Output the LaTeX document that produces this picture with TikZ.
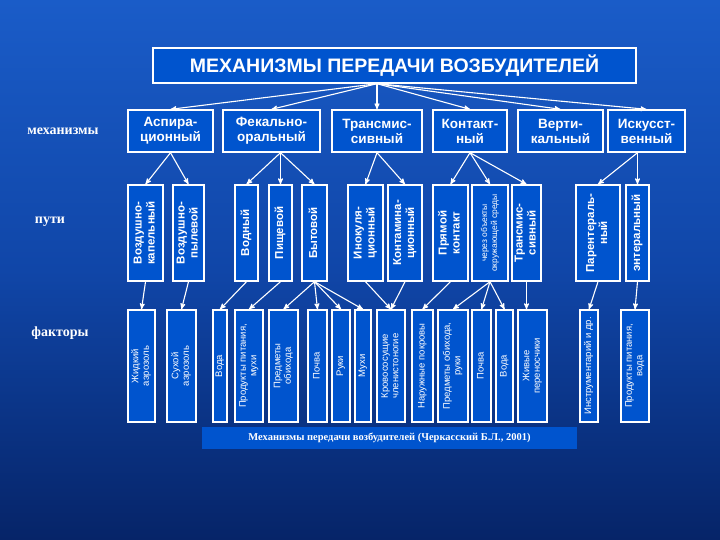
\documentclass[tikz,border=0pt]{standalone}
\usepackage{fontspec}
\setmainfont{Liberation Serif}
\setsansfont{Liberation Sans}
\usetikzlibrary{arrows}
\definecolor{boxblue}{RGB}{0,84,206}
\definecolor{bgtop}{RGB}{26,92,200}
\definecolor{bgmid}{RGB}{16,70,168}
\definecolor{bgbot}{RGB}{6,36,104}
\newcommand{\vtext}[1]{\rotatebox{90}{\begin{tabular}{@{}c@{}}#1\end{tabular}}}

\begin{document}
\begin{tikzpicture}[x=1pt,y=-1pt,>=stealth',
  box/.style={rectangle,draw=white,line width=1.4pt,fill=boxblue,text=white,inner sep=0pt},
  mbox/.style={box,minimum height=42pt,align=center,font=\sffamily\bfseries\fontsize{13.5}{15}\selectfont},
  pbox/.style={box,minimum height=96pt,font=\sffamily\bfseries\fontsize{11.5}{13}\selectfont},
  fbox/.style={box,minimum height=112pt,font=\sffamily\fontsize{9.5}{10.5}\selectfont},
  rowlabel/.style={text=white,font=\rmfamily\bfseries\fontsize{14}{16}\selectfont},
  arr/.style={white,line width=1.1pt,->}]
\path [top color=bgtop,bottom color=bgbot,middle color=bgmid] (0,0) rectangle (720,540);
\useasboundingbox (0,0) rectangle (720,540);
% title
\node (title) at (394.5,65.5) [box,minimum width=483pt,minimum height=35pt,
  font=\sffamily\bfseries\fontsize{19.5}{22}\selectfont] {МЕХАНИЗМЫ ПЕРЕДАЧИ ВОЗБУДИТЕЛЕЙ};
% row labels
\node (lmech) at (63,131) [rowlabel] {механизмы};
\node (lpath) at (50,222) [rowlabel] {пути};
\node (lfact) at (60,333) [rowlabel] {факторы};
% mechanisms
\node (asp) at (170.5,131) [mbox,minimum width=85pt] {Аспира-\\ционный};
\node (fek) at (271.5,131) [mbox,minimum width=97pt] {Фекально-\\оральный};
\node (trm) at (377,131)   [mbox,minimum width=90pt] {Трансмис-\\сивный};
\node (kon) at (470,131)   [mbox,minimum width=74pt] {Контакт-\\ный};
\node (ver) at (560.5,131) [mbox,minimum width=85pt] {Верти-\\кальный};
\node (isk) at (646.5,131) [mbox,minimum width=77pt] {Искусст-\\венный};
% paths
\node (vk)    at (145.5,233) [pbox,minimum width=35pt] {\vtext{Воздушно-\\капельный}};
\node (vp)    at (188.5,233) [pbox,minimum width=31pt] {\vtext{Воздушно-\\пылевой}};
\node (vod)   at (246.5,233) [pbox,minimum width=23pt] {\vtext{Водный}};
\node (pis)   at (280.5,233) [pbox,minimum width=23pt] {\vtext{Пищевой}};
\node (byt)   at (314.5,233) [pbox,minimum width=25pt] {\vtext{Бытовой}};
\node (ino)   at (365.5,233) [pbox,minimum width=35pt] {\vtext{Инокуля-\\ционный}};
\node (kont)  at (405,233)   [pbox,minimum width=34pt] {\vtext{Контамина-\\ционный}};
\node (pryam) at (450.5,233) [pbox,minimum width=35pt] {\vtext{Прямой\\контакт}};
\node (cher)  at (490,233)   [pbox,minimum width=36pt,font=\sffamily\fontsize{8.5}{10}\selectfont]
  {\vtext{через объекты\\окружающей среды}};
\node (trans) at (526.5,233) [pbox,minimum width=29pt] {\vtext{Трансмис-\\сивный}};
\node (par)   at (598,233)   [pbox,minimum width=44pt] {\vtext{Парентераль-\\ный}};
\node (ent)   at (637.5,233) [pbox,minimum width=23pt] {\vtext{энтеральный}};
% factors
\node (zhid)   at (141.5,366) [fbox,minimum width=27pt] {\vtext{Жидкий\\аэрозоль}};
\node (suh)    at (181.5,366) [fbox,minimum width=29pt] {\vtext{Сухой\\аэрозоль}};
\node (voda1)  at (220,366)   [fbox,minimum width=14pt] {\vtext{Вода}};
\node (prod1)  at (249,366)   [fbox,minimum width=28pt] {\vtext{Продукты питания,\\мухи}};
\node (predm1) at (283.5,366) [fbox,minimum width=29pt] {\vtext{Предметы\\обихода}};
\node (poch1)  at (317.5,366) [fbox,minimum width=19pt] {\vtext{Почва}};
\node (ruki)   at (341,366)   [fbox,minimum width=18pt] {\vtext{Руки}};
\node (muhi)   at (363,366)   [fbox,minimum width=16pt] {\vtext{Мухи}};
\node (krov)   at (391,366)   [fbox,minimum width=28pt] {\vtext{Кровососущие\\членистоногие}};
\node (naruzh) at (422.5,366) [fbox,minimum width=21pt] {\vtext{Наружные покровы}};
\node (predm2) at (453,366)   [fbox,minimum width=30pt] {\vtext{Предметы обихода,\\руки}};
\node (poch2)  at (481.5,366) [fbox,minimum width=19pt] {\vtext{Почва}};
\node (voda2)  at (504.5,366) [fbox,minimum width=17pt] {\vtext{Вода}};
\node (zhiv)   at (532.5,366) [fbox,minimum width=29pt] {\vtext{Живые\\переносчики}};
\node (instr)  at (589,366)   [fbox,minimum width=18pt] {\vtext{Инструментарий и др.}};
\node (prod2)  at (635,366)   [fbox,minimum width=28pt] {\vtext{Продукты питания,\\вода}};
% source
\node (source) at (389.5,438) [rectangle,fill=boxblue,text=white,minimum width=375pt,minimum height=22pt,
  font=\rmfamily\bfseries\fontsize{10.5}{12}\selectfont] {Механизмы передачи возбудителей (Черкасский Б.Л., 2001)};
% title to mechanisms
\draw [arr] (title.south -| trm.north) -- (asp.north);
\draw [arr] (title.south -| trm.north) -- (fek.north);
\draw [arr] (title.south -| trm.north) -- (trm.north);
\draw [arr] (title.south -| trm.north) -- (kon.north);
\draw [arr] (title.south -| trm.north) -- (ver.north);
\draw [arr] (title.south -| trm.north) -- (isk.north);
% mechanisms to paths
\draw [arr] (asp.south) -- (vk.north);
\draw [arr] (asp.south) -- (vp.north);
\draw [arr] (fek.south -| pis.north) -- (vod.north);
\draw [arr] (fek.south -| pis.north) -- (pis.north);
\draw [arr] (fek.south -| pis.north) -- (byt.north);
\draw [arr] (trm.south) -- (ino.north);
\draw [arr] (trm.south) -- (kont.north);
\draw [arr] (kon.south) -- (pryam.north);
\draw [arr] (kon.south) -- (cher.north);
\draw [arr] (kon.south) -- (trans.north);
\draw [arr] (isk.south -| ent.north) -- (par.north);
\draw [arr] (isk.south -| ent.north) -- (ent.north);
% paths to factors
\draw [arr] (vk.south)  -- (zhid.north);
\draw [arr] (vp.south)  -- (suh.north);
\draw [arr] (vod.south) -- (voda1.north);
\draw [arr] (pis.south) -- (prod1.north);
\draw [arr] (byt.south) -- (predm1.north);
\draw [arr] (byt.south) -- (poch1.north);
\draw [arr] (byt.south) -- (ruki.north);
\draw [arr] (byt.south) -- (muhi.north);
\draw [arr] (ino.south)  -- (krov.north);
\draw [arr] (kont.south) -- (krov.north);
\draw [arr] (pryam.south) -- (naruzh.north);
\draw [arr] (cher.south) -- (predm2.north);
\draw [arr] (cher.south) -- (poch2.north);
\draw [arr] (cher.south) -- (voda2.north);
\draw [arr] (trans.south) -- (trans.south |- zhiv.north);
\draw [arr] (par.south) -- (instr.north);
\draw [arr] (ent.south) -- (prod2.north);
\end{tikzpicture}
\end{document}
